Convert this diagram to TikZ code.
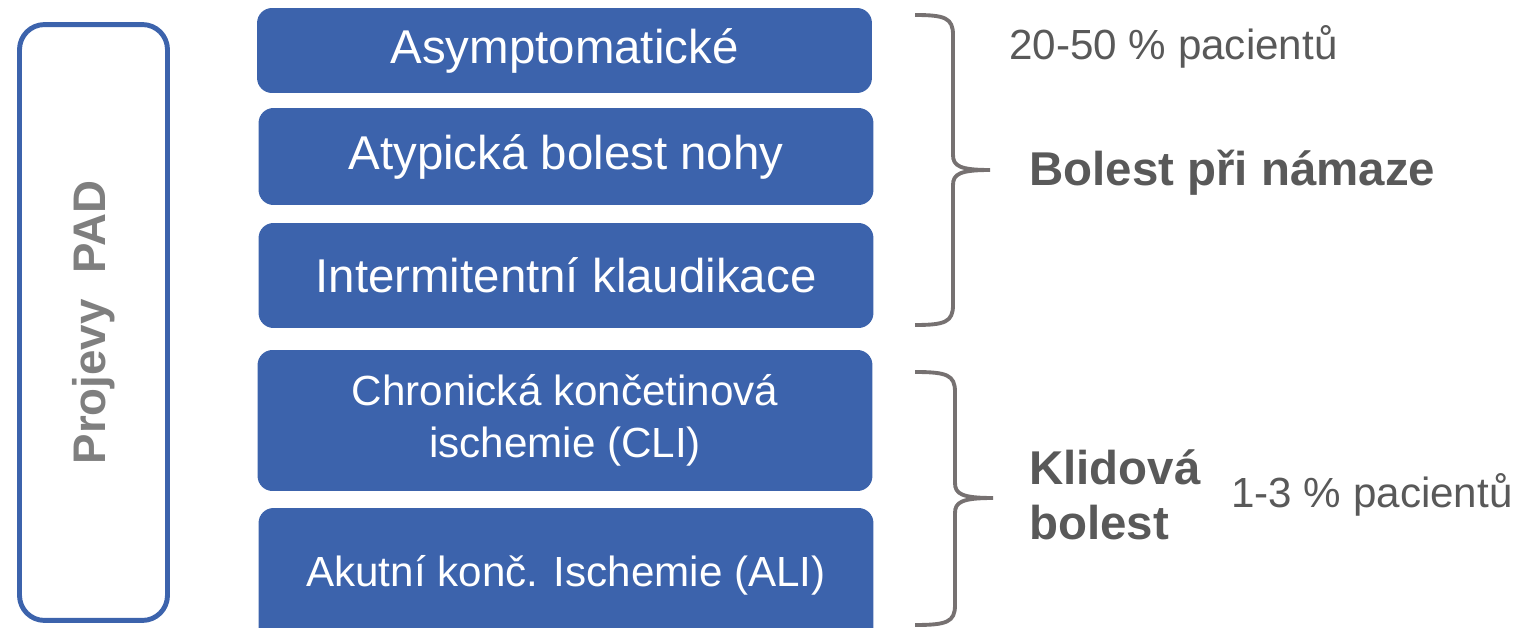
\documentclass[tikz,border=0pt]{standalone}
\usepackage{fontspec}
\setmainfont{Liberation Sans}
\definecolor{padblue}{HTML}{3C63AC}
\definecolor{bracegray}{HTML}{767171}
\definecolor{txtgray}{HTML}{595959}
\definecolor{sidegray}{HTML}{7F7F7F}
\tikzset{
    blk/.style={fill=padblue, draw=none, rounded corners=0.3cm, text=white, align=center,
        minimum width=12.3cm, font=\fontsize{27}{31}\selectfont},
    lbl/.style={anchor=west, inner sep=0pt, text=txtgray, align=left},
    brc/.style={draw=bracegray, line width=2.2pt}
}
\begin{document}
\begin{tikzpicture}[x=0.02cm, y=-0.02cm]
        \useasboundingbox (0,0) rectangle (1524,628);

        \node[draw=padblue, line width=2.8pt, rounded corners=0.5cm, minimum width=2.96cm, minimum height=11.92cm] (side) at (93.5,322.5) {};
        \node[rotate=90, text=sidegray, font=\fontsize{26}{30}\selectfont\bfseries] (projevy) at (side.center) {Projevy\ \ PAD};

        \node[blk, minimum height=1.7cm] (asym) at (564.5,50.5) {Asymptomatické};
        \node[blk, minimum height=1.94cm] (atyp) at (566,156.5) {Atypická bolest nohy};
        \node[blk, minimum height=2.1cm] (ik) at (566,275.5) {Intermitentní klaudikace};
        \node[blk, minimum height=2.82cm, font=\fontsize{24}{29.5}\selectfont] (cli) at (565,420.5) {Chronická končetinová\\ischemie (CLI)};
        \node[blk, minimum height=2.68cm, font=\fontsize{24}{29.5}\selectfont] (ali) at (566,575) {Akutní konč. Ischemie (ALI)};

        \draw[brc] (915,15) .. controls (945,15) and (953,18) .. (953,35) -- (953,155)
            .. controls (953,166) and (960,170) .. (990,170)
            .. controls (960,170) and (953,174) .. (953,185) -- (953,305)
            .. controls (953,322) and (945,325) .. (915,325);
        \draw[brc] (915,372) .. controls (947,372) and (955,375) .. (955,392) -- (955,483)
            .. controls (955,494) and (962,498) .. (993,498)
            .. controls (962,498) and (955,502) .. (955,513) -- (955,605)
            .. controls (955,622) and (947,625) .. (915,625);

        \node[lbl, font=\fontsize{24}{29}\selectfont] (pct1) at (1009,47) {20-50 \% pacientů};
        \node[lbl, font=\fontsize{27}{31}\selectfont\bfseries] (namaha) at (1029,173) {Bolest při námaze};
        \node[lbl, font=\fontsize{27}{31}\selectfont\bfseries] (klid) at (1029,495) {Klidová\\bolest};
        \node[lbl, font=\fontsize{24}{29}\selectfont] (pct2) at (1231,495) {1-3 \% pacientů};
    \end{tikzpicture}
\end{document}
